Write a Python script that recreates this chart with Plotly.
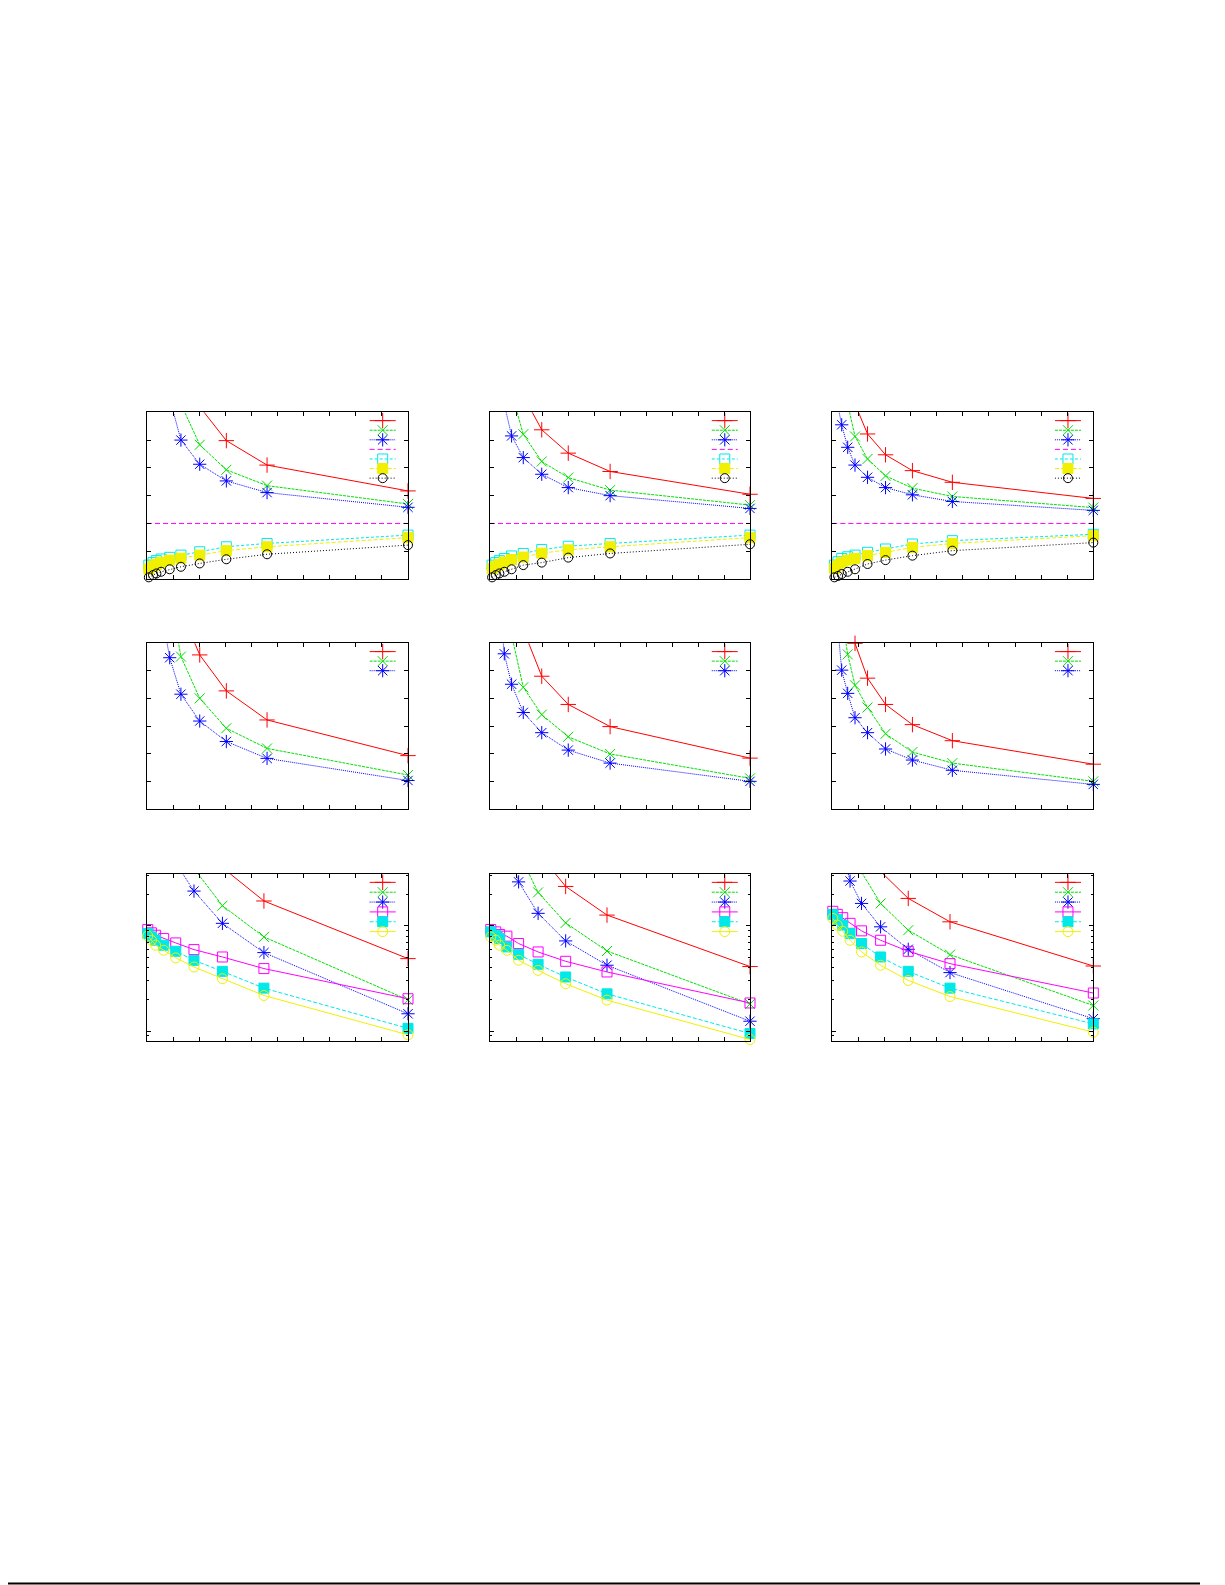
import math
import plotly.graph_objects as go

# ---------------- data ----------------
# Row 1 (linear y, 0..6)
X_P1 = [0.07, 0.23, 0.36, 0.54, 0.87, 1.3, 2.02, 3.04, 4.6, 10]
P1_RED = [None, None, None, None, None, 9.0, 6.2, 4.98, 4.1, 3.17]
P1_GREEN = [None, None, None, None, 8.5, 6.3, 4.83, 3.93, 3.36, 2.7]
P1_BLUE = [None, None, None, 9.0, 6.5, 5.0, 4.13, 3.53, 3.11, 2.58]
P1_CYAN = [0.5, 0.59, 0.66, 0.72, 0.78, 0.86, 0.98, 1.16, 1.28, 1.58]
P1_YELLOW = [0.36, 0.46, 0.53, 0.6, 0.68, 0.75, 0.86, 1.02, 1.16, 1.49]
P1_BLACK = [0.06, 0.14, 0.2, 0.26, 0.35, 0.44, 0.56, 0.71, 0.89, 1.22]

X_P2 = [0.08, 0.22, 0.36, 0.55, 0.83, 1.28, 1.99, 3.01, 4.62, 10]
P2_RED = [None, None, None, None, 9.0, 6.6, 5.37, 4.53, 3.87, 3.05]
P2_GREEN = [None, None, None, None, 6.7, 5.21, 4.23, 3.65, 3.2, 2.66]
P2_BLUE = [None, None, None, 6.3, 5.15, 4.37, 3.77, 3.29, 3.0, 2.54]
P2_CYAN = [0.5, 0.59, 0.66, 0.74, 0.83, 0.92, 1.06, 1.18, 1.28, 1.58]
P2_YELLOW = [0.37, 0.46, 0.53, 0.61, 0.7, 0.79, 0.93, 1.05, 1.16, 1.49]
P2_BLACK = [0.06, 0.14, 0.2, 0.26, 0.35, 0.5, 0.59, 0.77, 0.92, 1.25]

X_P3 = [0.08, 0.22, 0.36, 0.59, 0.87, 1.35, 2.04, 3.07, 4.6, 10]
P3_RED = [None, None, None, None, 6.3, 5.22, 4.47, 3.9, 3.48, 2.9]
P3_GREEN = [None, None, None, 6.3, 5.13, 4.32, 3.71, 3.27, 2.97, 2.57]
P3_BLUE = [None, 6.2, 5.55, 4.74, 4.1, 3.66, 3.29, 3.03, 2.79, 2.47]
P3_CYAN = [0.5, 0.62, 0.74, 0.8, 0.86, 0.96, 1.08, 1.26, 1.38, 1.61]
P3_YELLOW = [0.38, 0.5, 0.6, 0.68, 0.74, 0.84, 0.96, 1.14, 1.28, 1.56]
P3_BLACK = [0.06, 0.11, 0.18, 0.26, 0.35, 0.54, 0.68, 0.84, 1.02, 1.31]

REF_X = [0, 10]
REF_Y = [2.0, 2.0]

# Row 2 (linear y, 0..6)
P4_RED = [None, None, None, None, None, 7.2, 5.58, 4.28, 3.23, 1.94]
P4_GREEN = [None, None, None, None, 7.8, 5.52, 4.01, 2.93, 2.2, 1.24]
P4_BLUE = [None, None, None, 7.2, 5.48, 4.16, 3.19, 2.45, 1.84, 1.04]

P5_RED = [None, None, None, None, None, 6.5, 4.81, 3.79, 2.99, 1.85]
P5_GREEN = [None, None, None, None, 6.3, 4.41, 3.42, 2.62, 2.0, 1.12]
P5_BLUE = [None, None, 7.5, 5.62, 4.52, 3.5, 2.77, 2.14, 1.67, 1.01]

P6_RED = [None, None, None, 7.5, 6.0, 4.74, 3.79, 3.06, 2.48, 1.63]
P6_GREEN = [None, None, 7.0, 5.6, 4.48, 3.68, 2.73, 2.07, 1.67, 1.01]
P6_BLUE = [None, 6.5, 5.03, 4.19, 3.31, 2.77, 2.18, 1.78, 1.41, 0.9]

# Row 3 (log y)
X_P7 = [0.03, 0.17, 0.33, 0.64, 1.1, 1.8, 2.89, 4.48, 10]
P7_RED = [None, None, None, None, None, 79, 36, 17.3, 4.89]
P7_GREEN = [None, None, None, None, 89, 35.2, 15.6, 7.87, 1.98]
P7_BLUE = [None, None, None, None, 39.8, 21.5, 10.6, 5.58, 1.46]
P7_MAGENTA = [9.25, 8.61, 8.17, 7.59, 6.9, 5.96, 5.07, 3.93, 2.03]
P7_CYAN = [8.47, 7.87, 7.31, 6.56, 5.74, 4.71, 3.7, 2.56, 1.06]
P7_YELLOW = [8.05, 7.31, 6.56, 5.87, 4.97, 4.07, 3.15, 2.18, 0.92]

X_P8 = [0.03, 0.22, 0.37, 0.65, 1.1, 1.85, 2.91, 4.5, 10]
P8_RED = [None, None, None, None, None, 50, 23.8, 12.7, 4.11]
P8_GREEN = [None, None, None, None, 50, 20.9, 10.7, 5.78, 1.81]
P8_BLUE = [None, None, None, 63, 26.3, 13.2, 7.21, 4.23, 1.24]
P8_MAGENTA = [9.27, 8.79, 8.3, 8.0, 6.81, 5.66, 4.61, 3.65, 1.85]
P8_CYAN = [8.79, 8.17, 7.6, 6.32, 5.38, 4.32, 3.27, 2.26, 0.946]
P8_YELLOW = [7.87, 7.33, 6.56, 5.87, 4.72, 3.78, 2.82, 1.97, 0.83]

X_P9 = [0.02, 0.19, 0.4, 0.68, 1.12, 1.85, 2.91, 4.51, 10]
P9_RED = [None, None, None, None, 56, 33.1, 18.3, 10.96, 4.16]
P9_GREEN = [None, None, None, None, 32.5, 16.4, 9.12, 5.33, 1.75]
P9_BLUE = [None, None, 50, 26.8, 16.4, 9.82, 6.0, 3.6, 1.31]
P9_MAGENTA = [13.8, 12.9, 12.0, 10.6, 8.99, 7.31, 5.74, 4.38, 2.3]
P9_CYAN = [12.9, 11.5, 10.2, 8.47, 6.81, 5.07, 3.7, 2.56, 1.17]
P9_YELLOW = [11.8, 10.2, 8.91, 7.31, 5.66, 4.23, 3.03, 2.13, 0.975]

# ---------------- styles ----------------
W, H = 1225, 1585
OFF = 8  # page body margin
X_RANGE = [0, 10]
LIN_RANGE = [0, 6]
LOG_RANGE = [-0.095, 1.495]

COL_PX = [(147, 408), (490, 750), (832.3, 1093.3)]
ROW_PX = [(412.3, 579), (643.3, 809.3), (874, 1041)]

RED = "#ff0000"
GREEN = "#00e000"
BLUE = "#0000ff"
MAGENTA = "#ff00ff"
CYAN = "#00e8e8"
YELLOW = "#f0f000"
BLACK = "#000000"

ST = {
    "red": dict(color=RED, dash="solid", symbol="cross-thin-open", size=11),
    "green": dict(color=GREEN, dash="3px,1px", symbol="x-thin-open", size=10),
    "blue": dict(color=BLUE, dash="1px,1px", symbol="asterisk-open", size=11),
    "magenta_ref": dict(color=MAGENTA, dash="5px,3px", symbol=None, size=0),
    "cyan_open": dict(color=CYAN, dash="3px,2px", symbol="square-open", size=10),
    "yellow_fill": dict(color=YELLOW, dash="4px,2px", symbol="square", size=10),
    "black_circ": dict(color=BLACK, dash="1px,2px", symbol="circle-open", size=9),
    "magenta_sq": dict(color=MAGENTA, dash="solid", symbol="square-open", size=10),
    "cyan_fill": dict(color=CYAN, dash="4px,2px", symbol="square", size=10),
    "yellow_circ": dict(color=YELLOW, dash="solid", symbol="circle-open", size=10),
}

PANELS = [
    (X_P1, [("red", P1_RED), ("green", P1_GREEN), ("blue", P1_BLUE), ("magenta_ref", None),
            ("cyan_open", P1_CYAN), ("yellow_fill", P1_YELLOW), ("black_circ", P1_BLACK)], False),
    (X_P2, [("red", P2_RED), ("green", P2_GREEN), ("blue", P2_BLUE), ("magenta_ref", None),
            ("cyan_open", P2_CYAN), ("yellow_fill", P2_YELLOW), ("black_circ", P2_BLACK)], False),
    (X_P3, [("red", P3_RED), ("green", P3_GREEN), ("blue", P3_BLUE), ("magenta_ref", None),
            ("cyan_open", P3_CYAN), ("yellow_fill", P3_YELLOW), ("black_circ", P3_BLACK)], False),
    (X_P1, [("red", P4_RED), ("green", P4_GREEN), ("blue", P4_BLUE)], False),
    (X_P2, [("red", P5_RED), ("green", P5_GREEN), ("blue", P5_BLUE)], False),
    (X_P3, [("red", P6_RED), ("green", P6_GREEN), ("blue", P6_BLUE)], False),
    (X_P7, [("red", P7_RED), ("green", P7_GREEN), ("blue", P7_BLUE),
            ("magenta_sq", P7_MAGENTA), ("cyan_fill", P7_CYAN), ("yellow_circ", P7_YELLOW)], True),
    (X_P8, [("red", P8_RED), ("green", P8_GREEN), ("blue", P8_BLUE),
            ("magenta_sq", P8_MAGENTA), ("cyan_fill", P8_CYAN), ("yellow_circ", P8_YELLOW)], True),
    (X_P9, [("red", P9_RED), ("green", P9_GREEN), ("blue", P9_BLUE),
            ("magenta_sq", P9_MAGENTA), ("cyan_fill", P9_CYAN), ("yellow_circ", P9_YELLOW)], True),
]

fig = go.Figure()
layout = dict(width=W, height=H, margin=dict(l=0, r=0, t=0, b=0),
              paper_bgcolor="white", plot_bgcolor="white", showlegend=False)


def px_x(x):
    return (x - OFF) / W


def px_y(y):
    return 1 - (y - OFF) / H


def ycoord_from_frac(frac_top, is_log):
    # legend key position inside the plot area (fraction from the top)
    if is_log:
        lo, hi = LOG_RANGE
        return 10 ** (hi - frac_top * (hi - lo))
    lo, hi = LIN_RANGE
    return hi - frac_top * (hi - lo)


def in_range(y, is_log):
    if y is None:
        return False
    if is_log:
        return math.log10(y) <= LOG_RANGE[1] + 0.01
    return y <= LIN_RANGE[1] * 1.005


for i, (xs, series, is_log) in enumerate(PANELS):
    n = i + 1
    r, c = divmod(i, 3)
    x0, x1 = COL_PX[c]
    y0, y1 = ROW_PX[r]
    xa = "x" if n == 1 else f"x{n}"
    ya = "y" if n == 1 else f"y{n}"
    axkey = "xaxis" if n == 1 else f"xaxis{n}"
    aykey = "yaxis" if n == 1 else f"yaxis{n}"
    layout[axkey] = dict(domain=[px_x(x0), px_x(x1)], anchor=ya, range=X_RANGE, dtick=1, tick0=0,
                         showline=True, mirror="ticks", linecolor="black", linewidth=1,
                         ticks="inside", ticklen=4, tickcolor="black", tickwidth=1,
                         showticklabels=False, showgrid=False, zeroline=False, fixedrange=True)
    yax = dict(domain=[px_y(y1), px_y(y0)], anchor=xa,
               showline=True, mirror="ticks", linecolor="black", linewidth=1,
               ticks="inside", ticklen=4, tickcolor="black", tickwidth=1,
               showticklabels=False, showgrid=False, zeroline=False, fixedrange=True)
    if is_log:
        yax.update(type="log", range=LOG_RANGE, dtick=1,
                   minor=dict(ticks="inside", ticklen=2, tickcolor="black", showgrid=False))
    else:
        yax.update(range=LIN_RANGE, dtick=1, tick0=0)
    layout[aykey] = yax

    step = 0.059 if is_log else 0.0575
    for k, (sname, ys) in enumerate(series):
        st = ST[sname]
        line = dict(color=st["color"], width=1, dash=st["dash"])
        if ys is None:
            sx, sy = REF_X, REF_Y
        else:
            sx, sy = xs, ys
        fig.add_trace(go.Scatter(x=sx, y=sy, xaxis=xa, yaxis=ya, mode="lines", line=line,
                                 connectgaps=False, hoverinfo="skip"))
        if st["symbol"]:
            mx = [xv for xv, yv in zip(sx, sy) if in_range(yv, is_log)]
            my = [yv for yv in sy if in_range(yv, is_log)]
            fig.add_trace(go.Scatter(x=mx, y=my, xaxis=xa, yaxis=ya, mode="markers",
                                     cliponaxis=False, hoverinfo="skip",
                                     marker=dict(symbol=st["symbol"], size=st["size"],
                                                 color=st["color"],
                                                 line=dict(color=st["color"], width=1))))
        # legend key (line sample + point) in upper right
        ly = ycoord_from_frac(0.05 + k * step, is_log)
        lx0 = X_RANGE[0] + 0.853 * (X_RANGE[1] - X_RANGE[0])
        lx1 = X_RANGE[0] + 0.953 * (X_RANGE[1] - X_RANGE[0])
        fig.add_trace(go.Scatter(x=[lx0, lx1], y=[ly, ly], xaxis=xa, yaxis=ya, mode="lines",
                                 line=line, hoverinfo="skip"))
        if st["symbol"]:
            fig.add_trace(go.Scatter(x=[(lx0 + lx1) / 2], y=[ly], xaxis=xa, yaxis=ya,
                                     mode="markers", cliponaxis=False, hoverinfo="skip",
                                     marker=dict(symbol=st["symbol"], size=st["size"],
                                                 color=st["color"],
                                                 line=dict(color=st["color"], width=1))))

layout["shapes"] = [dict(type="line", xref="paper", yref="paper", x0=px_x(0), x1=px_x(1200),
                         y0=px_y(1583.5), y1=px_y(1583.5),
                         line=dict(color="black", width=2))]
fig.update_layout(**layout)
fig.write_html("out.html")
